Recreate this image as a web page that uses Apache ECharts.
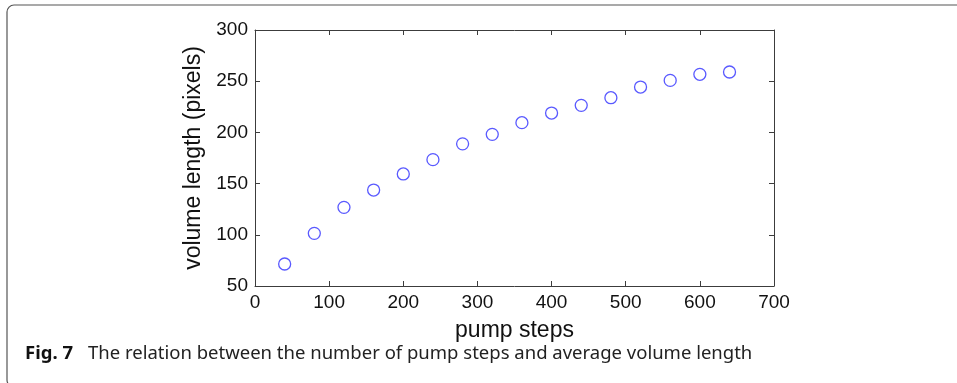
<!DOCTYPE html>
<html>
<head>
<meta charset="utf-8">
<script src="https://cdn.jsdelivr.net/npm/echarts@6/dist/echarts.min.js"></script>
<style>
  html, body { margin: 0; padding: 0; background: #fff; }
  #main { width: 957px; height: 383px; }
</style>
</head>
<body>
<div id="main"></div>
<script>
// pump steps vs mean volume length
const pumpSteps = [40, 80, 120, 160, 200, 240, 280, 320, 360, 400, 440, 480, 520, 560, 600, 640];
const volumeLength = [71.5, 101.4, 126.8, 143.7, 159.4, 173.4, 188.8, 198.1, 209.5, 218.9, 226.4, 233.9, 244.3, 250.8, 256.7, 259];
const xTicks = [0, 100, 200, 300, 400, 500, 600, 700];
const yTicks = [50, 100, 150, 200, 250, 300];

const xTitle = 'pump steps';
const yTitle = 'volume length (pixels)';
const captionBold = 'Fig. 7';
const captionText = 'The relation between the number of pump steps and average volume length';

const axisColor = '#3c3c3c';
const labelFont = { color: '#111', fontSize: 19, fontFamily: 'Liberation Sans, Arial, sans-serif' };
const nameFont = { color: '#111', fontSize: 23, fontFamily: 'Liberation Sans, Arial, sans-serif' };

function baseAxis(ticks, extra) {
  return Object.assign({
    type: 'value',
    min: ticks[0],
    max: ticks[ticks.length - 1],
    interval: ticks[1] - ticks[0],
    splitLine: { show: false },
    axisLine: { show: true, onZero: false, lineStyle: { color: axisColor, width: 1 } },
    axisTick: { show: true, inside: true, length: 5, lineStyle: { color: axisColor, width: 1 } }
  }, extra);
}

const chart = echarts.init(document.getElementById('main'));
chart.setOption({
  animation: false,
  grid: { left: 255, top: 30, right: 183, bottom: 97, containLabel: false },
  xAxis: [
    baseAxis(xTicks, {
      position: 'bottom',
      name: xTitle,
      nameLocation: 'middle',
      nameGap: 33,
      nameTextStyle: nameFont,
      axisLabel: Object.assign({ margin: 7 }, labelFont)
    }),
    baseAxis(xTicks, { position: 'top', axisLabel: { show: false } })
  ],
  yAxis: [
    baseAxis(yTicks, {
      position: 'left',
      name: yTitle,
      nameLocation: 'middle',
      nameGap: 46,
      nameTextStyle: nameFont,
      axisLabel: Object.assign({ margin: 7 }, labelFont)
    }),
    baseAxis(yTicks, { position: 'right', axisLabel: { show: false } })
  ],
  series: [{
    type: 'scatter',
    data: pumpSteps.map((x, i) => [x, volumeLength[i]]),
    symbol: 'circle',
    symbolSize: 12,
    itemStyle: { color: 'rgba(0,0,0,0)', borderColor: '#2f2fff', borderWidth: 1.3 }
  }],
  graphic: [
    {
      type: 'rect',
      shape: { x: 7, y: 5, width: 1000, height: 382, r: 7 },
      style: { fill: 'none', stroke: '#555', lineWidth: 1.2 },
      silent: true
    },
    {
      type: 'text',
      left: 25,
      top: 344,
      style: {
        text: captionBold,
        fill: '#111',
        font: 'bold 18.5px "Noto Sans", "Open Sans", sans-serif'
      }
    },
    {
      type: 'text',
      left: 88,
      top: 344,
      style: {
        text: captionText,
        fill: '#222',
        font: '18.5px "Noto Sans", "Open Sans", sans-serif'
      }
    }
  ]
});
</script>
</body>
</html>
